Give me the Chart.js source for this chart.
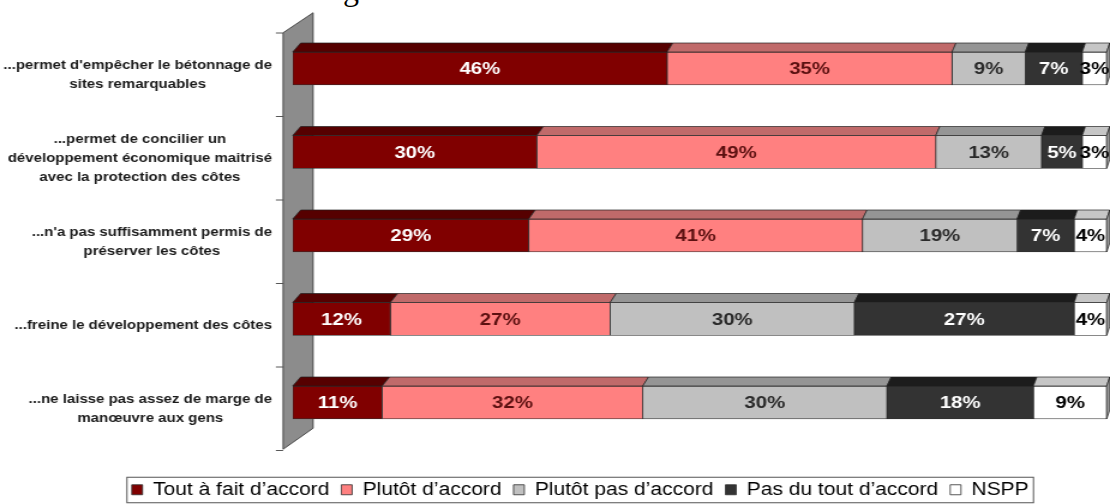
<!DOCTYPE html>
<html><head><meta charset="utf-8">
<script src="https://cdn.jsdelivr.net/npm/chart.js@4.4.1/dist/chart.umd.min.js"></script>
<style>
html,body{margin:0;padding:0;background:#fff;width:1110px;height:504px;overflow:hidden;}
#wrap{position:relative;width:1110px;height:504px;overflow:hidden;background:#fff;}
#c{position:absolute;left:0;top:0;transform:scaleX(1.2);transform-origin:0 0;}
#ttl{position:absolute;left:343px;top:-27px;font:32px/32px "Liberation Serif","DejaVu Serif",serif;color:#000;white-space:nowrap;}
</style></head>
<body><div id="wrap"><div id="ttl">g</div><canvas id="c" width="925" height="514"></canvas></div>
<script>
// ---- data ----
const categories = [
  ["...permet d'empêcher le bétonnage de", "sites remarquables"],
  ["...permet de concilier un", "développement économique maitrisé", "avec la protection des côtes"],
  ["...n'a pas suffisamment permis de", "préserver les côtes"],
  ["...freine le développement des côtes"],
  ["...ne laisse pas assez de marge de", "manœuvre aux gens"]
];
const seriesNames = ["Tout à fait d’accord", "Plutôt d’accord", "Plutôt pas d’accord", "Pas du tout d’accord", "NSPP"];
const toutAFait    = [46, 30, 29, 12, 11];
const plutotAccord = [35, 49, 41, 27, 32];
const plutotPas    = [9, 13, 19, 30, 30];
const pasDuTout    = [7, 5, 7, 27, 18];
const nspp         = [3, 3, 4, 4, 9];
const seriesValues = [toutAFait, plutotAccord, plutotPas, pasDuTout, nspp];

// ---- styles ----
const S = 1.2; // horizontal stretch applied to the canvas
const FONT = '"Liberation Sans", Arial, sans-serif';
const frontColors = ['#800000', '#ff8080', '#c0c0c0', '#333333', '#ffffff'];
const topColors   = ['#560000', '#c06a6a', '#959595', '#1c1c1c', '#c6c6c6'];
const labelColors = ['#ffffff', '#5c1010', '#2a2a2a', '#ffffff', '#000000'];

const depth = {
  id: 'depth3d',
  beforeDatasetsDraw(chart) {
    const {ctx, chartArea: a} = chart;
    const x0 = a.left - 8, x1 = a.left + 17;
    ctx.save();
    ctx.beginPath();
    ctx.moveTo(x0, a.top + 6);
    ctx.lineTo(x1, a.top - 14);
    ctx.lineTo(x1, a.bottom - 16);
    ctx.lineTo(x0, a.bottom + 5);
    ctx.closePath();
    ctx.fillStyle = '#8c8c8c';
    ctx.fill();
    ctx.strokeStyle = '#3c3c3c';
    ctx.lineWidth = 0.9;
    ctx.stroke();
    const ys = chart.scales.y;
    const n = chart.data.labels.length;
    ctx.beginPath();
    for (let k = 0; k <= n; k++) {
      const yb = ys.getPixelForValue(k - 0.5) + 6.25;
      ctx.moveTo(x0 - 6, yb);
      ctx.lineTo(x0, yb);
    }
    ctx.strokeStyle = '#444';
    ctx.stroke();
    ctx.restore();
  },
  afterDatasetsDraw(chart) {
    const {ctx, chartArea: a} = chart;
    const dxAt = x => (8 - 5 * (x - a.left) / (a.right - a.left)) / S;
    const DY = 9;
    const nds = chart.data.datasets.length;
    ctx.save();
    ctx.lineWidth = 0.8;
    ctx.strokeStyle = 'rgba(30,30,30,0.85)';
    chart.data.datasets.forEach((ds, di) => {
      chart.getDatasetMeta(di).data.forEach(el => {
        const {x, base, y, height} = el.getProps(['x', 'base', 'y', 'height'], true);
        const l = Math.min(x, base), r = Math.max(x, base);
        const t = y - height / 2, b = y + height / 2;
        ctx.beginPath();
        ctx.moveTo(l, t); ctx.lineTo(r, t);
        ctx.lineTo(r + dxAt(r), t - DY); ctx.lineTo(l + dxAt(l), t - DY);
        ctx.closePath();
        ctx.fillStyle = topColors[di];
        ctx.fill(); ctx.stroke();
        if (di === nds - 1) {
          ctx.beginPath();
          ctx.moveTo(r, t); ctx.lineTo(r + dxAt(r), t - DY);
          ctx.lineTo(r + dxAt(r), b - DY); ctx.lineTo(r, b);
          ctx.closePath();
          ctx.fillStyle = '#9a9a9a';
          ctx.fill(); ctx.stroke();
        }
      });
    });
    // value labels
    ctx.font = 'bold 17px ' + FONT;
    ctx.textAlign = 'center';
    ctx.textBaseline = 'middle';
    chart.data.datasets.forEach((ds, di) => {
      chart.getDatasetMeta(di).data.forEach((el, i) => {
        const {x, base, y} = el.getProps(['x', 'base', 'y'], true);
        ctx.fillStyle = labelColors[di];
        ctx.fillText(ds.data[i] + '%', (x + base) / 2, y + 1);
      });
    });
    // category labels (centred lines, right-aligned block)
    ctx.font = 'bold 12.5px ' + FONT;
    ctx.fillStyle = '#1a1a1a';
    const rightEdge = 272 / S;
    chart.data.labels.forEach((lab, i) => {
      const lines = Array.isArray(lab) ? lab : [lab];
      const w = Math.max(...lines.map(s => ctx.measureText(s).width));
      const cx = rightEdge - w / 2;
      const yc = chart.scales.y.getPixelForValue(i) + 7;
      lines.forEach((s, j) => ctx.fillText(s, cx, yc + (j - (lines.length - 1) / 2) * 19));
    });
    ctx.restore();
  },
  afterDraw(chart) {
    const {ctx} = chart;
    const hb = chart.legend.legendHitBoxes;
    if (!hb || !hb.length) return;
    const last = hb[hb.length - 1];
    const l = hb[0].left - 4, r = last.left + last.width + 4;
    const cy = hb[0].top + hb[0].height / 2;
    ctx.save();
    ctx.strokeStyle = '#555';
    ctx.lineWidth = 1;
    ctx.strokeRect(l, cy - 12.5, r - l, 25.5);
    ctx.restore();
  }
};

Chart.defaults.font.family = FONT;

new Chart(document.getElementById('c'), {
  type: 'bar',
  data: {
    labels: categories,
    datasets: seriesNames.map((name, i) => ({
      label: name,
      data: seriesValues[i],
      backgroundColor: frontColors[i],
      borderColor: '#2e2e2e',
      borderWidth: 0.8,
      borderSkipped: false,
      barThickness: 33
    }))
  },
  options: {
    indexAxis: 'y',
    responsive: false,
    animation: false,
    devicePixelRatio: 1,
    layout: {padding: {left: 44.75, right: 2.75, top: 26.75, bottom: 5.5}},
    scales: {
      x: {
        stacked: true, min: 0, max: 100, display: true,
        grid: {display: false}, border: {display: false}, ticks: {display: false},
        afterFit(s) { s.height = 26.75; }
      },
      y: {
        stacked: true, display: true,
        grid: {display: false}, border: {display: false}, ticks: {display: false},
        afterFit(s) { s.width = 199.15; }
      }
    },
    plugins: {
      legend: {
        position: 'bottom',
        labels: {font: {size: 17.5, family: FONT}, color: '#000', boxWidth: 9, boxHeight: 10, padding: 10}
      },
      tooltip: {enabled: false}
    }
  },
  plugins: [depth]
});
</script>
</body></html>
